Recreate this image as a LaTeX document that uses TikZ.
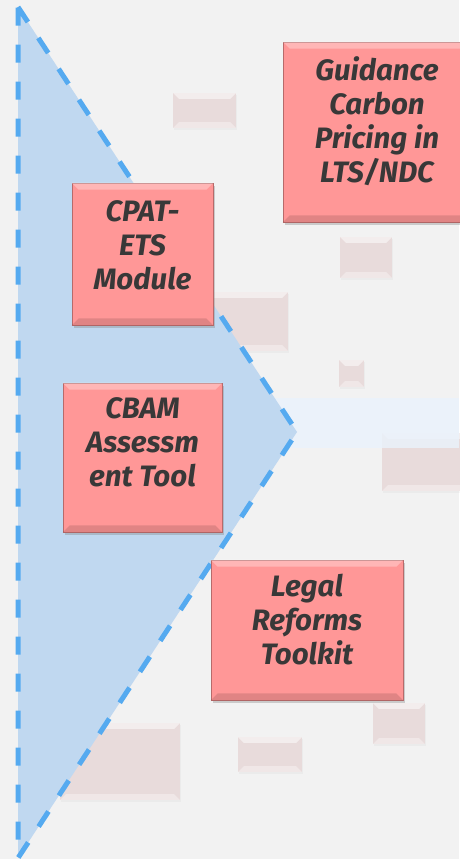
\documentclass[tikz,border=0pt]{standalone}
\usepackage{fontspec}
\setmainfont{Fira Sans}
\usetikzlibrary{positioning,shadows,calc}

\definecolor{bggray}{HTML}{F2F2F2}
\definecolor{tribl}{HTML}{C0D8F0}
\definecolor{dashbl}{HTML}{55AAF0}
\definecolor{bandbl}{HTML}{EAF3FC}
\definecolor{boxred}{HTML}{FF9797}
\definecolor{boxedge}{HTML}{B86A6A}
\definecolor{ghost}{HTML}{E8DBDB}
\definecolor{txtgray}{HTML}{383838}

% bevel: node, depth, top style, bottom style
\newcommand{\bevel}[4]{%
  \fill[#3] (#1.north west) -- (#1.north east) -- ($(#1.north east)+(-#2,#2)$) -- ($(#1.north west)+(#2,#2)$) -- cycle;
  \fill[#4] (#1.south west) -- (#1.south east) -- ($(#1.south east)+(-#2,-#2)$) -- ($(#1.south west)+(#2,-#2)$) -- cycle;
}

\tikzset{
  redbox/.style={draw=boxedge, line width=0.7pt, fill=boxred, inner sep=0pt,
    drop shadow={shadow xshift=2pt, shadow yshift=-3pt, opacity=0.35}},
  ghostbox/.style={fill=ghost, inner sep=0pt,
    drop shadow={shadow xshift=1pt, shadow yshift=-2pt, opacity=0.06}},
  boxtext/.style={font=\fontsize{29.5}{34}\selectfont\bfseries\itshape, text=txtgray, align=center, inner sep=0pt}
}

\begin{document}
\begin{tikzpicture}[x=1pt,y=-1pt]
\useasboundingbox (0,0) rectangle (459,859);
\fill[bggray] (0,0) rectangle (459,859);

% faint background blocks
\foreach \n/\cx/\cy/\w/\h in {1/204.5/110.5/63/35, 2/366/257.5/52/41, 3/246.5/321.5/83/59,
    4/351.5/373.5/25/27, 5/428.5/462/93/58, 6/120/761.5/120/77, 7/270/754.5/64/35, 8/399/723.5/52/41}{
  \node[ghostbox, minimum width=\w pt, minimum height=\h pt] (ghost\n) at (\cx,\cy) {};
  \bevel{ghost\n}{6}{white,opacity=0.5}{white,opacity=0.35}
}

% light band
\fill[bandbl, opacity=0.8] (200,398) rectangle (459,448);

% triangle
\draw[fill=tribl, draw=dashbl, line width=5pt, dash pattern=on 18pt off 19pt]
  (18,7) -- (297,432) -- (18,858) -- cycle;

% tools
\node[redbox, minimum width=188pt, minimum height=180pt] (guide) at (377,132) {};
\node[redbox, minimum width=141pt, minimum height=142pt] (cpat) at (142.5,254) {};
\node[redbox, minimum width=159pt, minimum height=149pt] (cbam) at (142.5,457.5) {};
\node[redbox, minimum width=192pt, minimum height=140pt] (legal) at (307,630) {};
\foreach \b in {guide,cpat,cbam,legal}{
  \bevel{\b}{7}{white,opacity=0.3}{black,opacity=0.12}
}

\node[boxtext, below=15pt of guide.north] (guidetext) {\strut Guidance\\Carbon\\Pricing in\\LTS/NDC};
\node[boxtext, below=15pt of cpat.north] (cpattext) {\strut CPAT-\\ETS\\Module};
\node[boxtext, below=12pt of cbam.north] (cbamtext) {\strut CBAM\\Assessm\\ent Tool};
\node[boxtext, below=13pt of legal.north] (legaltext) {\strut Legal\\Reforms\\Toolkit};
\end{tikzpicture}
\end{document}
